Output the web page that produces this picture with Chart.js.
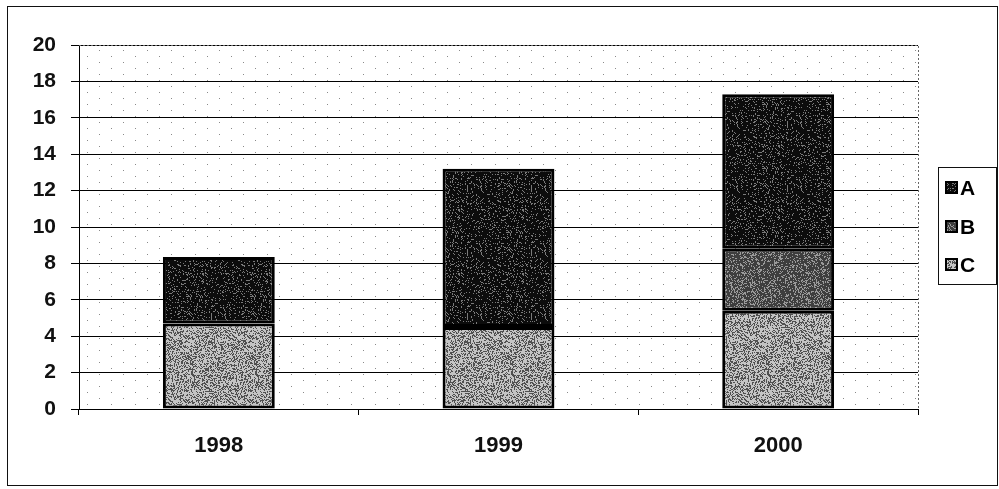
<!DOCTYPE html>
<html>
<head>
<meta charset="utf-8">
<script src="https://cdn.jsdelivr.net/npm/chart.js@4.4.1/dist/chart.umd.min.js"></script>
<style>
  html, body { margin: 0; padding: 0; background: #fff; }
  #wrap { width: 999px; height: 489px; }
</style>
</head>
<body>
<div id="wrap"><canvas id="chart" width="999" height="489"></canvas></div>
<script>
// values
const years = ['1998', '1999', '2000'];
const seriesA = [3.65, 8.7, 8.5];
const seriesB = [null, null, 3.4];
const seriesC = [4.7, 4.5, 5.4];
const yTicks = [0, 2, 4, 6, 8, 10, 12, 14, 16, 18, 20];

/**
 * Builds a speckled fill, like the old dithered print
 */
function makeTexture(base, speck, density, seed) {
    const c = document.createElement('canvas');
    c.width = 64; c.height = 64;
    const g = c.getContext('2d');
    g.fillStyle = base;
    g.fillRect(0, 0, 64, 64);
    g.fillStyle = speck;
    let s = seed;
    for (let i = 0; i < 64 * 64; i++) {
        s = (s * 1103515245 + 12345) & 0x7fffffff;
        if ((s % 1000) / 1000 < density) g.fillRect(i % 64, Math.floor(i / 64), 1, 1);
    }
    return g.createPattern(c, 'repeat');
}

function makeDots() {
    const c = document.createElement('canvas');
    c.width = 24; c.height = 12;
    const g = c.getContext('2d');
    g.fillStyle = '#fff';
    g.fillRect(0, 0, 24, 12);
    g.fillStyle = '#8a8a8a';
    g.fillRect(3, 2, 1, 1);
    g.fillRect(15, 8, 1, 1);
    return g.createPattern(c, 'repeat');
}

const fillA = makeTexture('#0c0c0c', '#7a7a7a', 0.16, 7);
const fillB = makeTexture('#3e3e3e', '#9a9a9a', 0.28, 11);
const fillC = makeTexture('#c4c4c4', '#505050', 0.38, 23);

const frame = {
    id: 'frame',
    beforeDraw(chart) {
        const { ctx, chartArea: a } = chart;
        ctx.save();
        ctx.fillStyle = makeDots();
        ctx.fillRect(a.left, a.top, a.right - a.left, a.bottom - a.top);
        ctx.restore();
    },
    afterDatasetsDraw(chart) {
        const { ctx, chartArea: a } = chart;
        ctx.save();
        // dashed grey border of the plot area (top and right)
        ctx.strokeStyle = '#666';
        ctx.setLineDash([2, 2]);
        ctx.lineWidth = 1;
        ctx.beginPath();
        ctx.moveTo(a.left, a.top + 0.5);
        ctx.lineTo(a.right + 0.5, a.top + 0.5);
        ctx.lineTo(a.right + 0.5, a.bottom);
        ctx.stroke();
        ctx.setLineDash([]);
        // outer frame
        ctx.strokeStyle = '#111';
        ctx.strokeRect(7.5, 6.5, 990, 479);
        // legend box
        ctx.strokeRect(938.5, 167.5, 58, 117);
        const items = [
            { label: 'A', fill: fillA, y: 188 },
            { label: 'B', fill: fillB, y: 227 },
            { label: 'C', fill: fillC, y: 265 }
        ];
        ctx.font = 'bold 21px "Liberation Sans", Arial, sans-serif';
        ctx.textBaseline = 'middle';
        items.forEach(it => {
            ctx.fillStyle = it.fill;
            ctx.fillRect(946, it.y - 6, 11, 11);
            ctx.strokeStyle = '#000';
            ctx.lineWidth = 2;
            ctx.strokeRect(946, it.y - 6, 11, 11);
            ctx.fillStyle = '#000';
            ctx.fillText(it.label, 960, it.y + 1);
        });
        ctx.restore();
    }
};

const data = {
    labels: years,
    datasets: [
        { label: 'C', data: seriesC, backgroundColor: fillC },
        { label: 'B', data: seriesB, backgroundColor: fillB },
        { label: 'A', data: seriesA, backgroundColor: fillA }
    ].map(d => Object.assign(d, {
        borderColor: '#000',
        borderWidth: 3,
        borderSkipped: false,
        categoryPercentage: 1,
        barPercentage: 0.4
    }))
};

const config = {
    type: 'bar',
    data: data,
    options: {
        responsive: false,
        animation: false,
        layout: { padding: { top: 45, right: 81, bottom: 10, left: 10 } },
        plugins: {
            legend: { display: false },
            tooltip: { enabled: false }
        },
        scales: {
            x: {
                stacked: true,
                afterFit: s => { s.height = 70; },
                grid: {
                    offset: true,
                    drawOnChartArea: false,
                    color: '#000',
                    tickLength: 6
                },
                border: { color: '#000', width: 1 },
                ticks: {
                    color: '#111',
                    padding: 18,
                    font: { family: '"Liberation Sans", Arial, sans-serif', size: 22, weight: 'bold' }
                }
            },
            y: {
                stacked: true,
                min: yTicks[0],
                max: yTicks[yTicks.length - 1],
                afterFit: s => { s.width = 69; },
                afterBuildTicks: s => { s.ticks = yTicks.map(v => ({ value: v })); },
                grid: {
                    color: '#000',
                    tickLength: 8,
                    drawTicks: true
                },
                border: { color: '#000', width: 1 },
                ticks: {
                    color: '#111',
                    padding: 15,
                    font: { family: '"Liberation Sans", Arial, sans-serif', size: 21, weight: 'bold' }
                }
            }
        }
    },
    plugins: [frame]
};

new Chart(document.getElementById('chart').getContext('2d'), config);
</script>
</body>
</html>
